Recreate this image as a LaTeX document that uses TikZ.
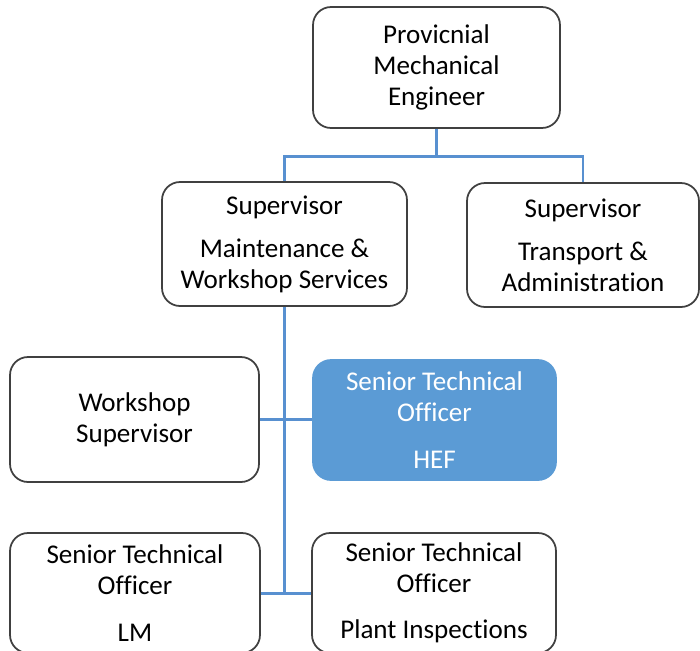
\documentclass[tikz,border=0pt]{standalone}
\usepackage{fontspec}
\setmainfont[Ligatures=NoCommon]{Carlito}
\colorlet{BoxBorder}{black!75}
\definecolor{LinkBlue}{RGB}{88,144,208}
\definecolor{FilledBox}{RGB}{91,155,213}
\usetikzlibrary{calc}
\tikzset{
    post/.style={
        draw=BoxBorder, line width=1pt, rounded corners=0.36cm,
        fill=white, align=center, inner sep=0pt,
        font=\fontsize{15.4}{17.5}\selectfont
    },
    post hl/.style={
        post, draw=FilledBox, fill=FilledBox, text=white
    },
    link/.style={draw=LinkBlue, line width=1.7pt}
}

\begin{document}
\begin{tikzpicture}[x=0.02cm, y=-0.02cm]

\useasboundingbox (0,0) rectangle (700,650);
\clip (0,0) rectangle (700,650);

% Head of the office.
\node[post, minimum width=4.94cm, minimum height=2.42cm] (pme) at (436.5,67.5)
    {Provicnial\\Mechanical\\Engineer};

% Supervisors.
\node[post, minimum width=4.9cm, minimum height=2.48cm] (supm) at (284.5,244)
    {Supervisor\\[7pt]Maintenance \&\\Workshop Services};
\node[post, minimum width=4.64cm, minimum height=2.48cm] (supt) at (583,245)
    {Supervisor\\[7pt]Transport \&\\Administration};

% Posts under maintenance and workshop services.
\node[post, minimum width=4.98cm, minimum height=2.5cm] (wsup) at (134.5,419.5)
    {Workshop\\Supervisor};
\node[post hl, minimum width=4.86cm, minimum height=2.4cm] (hef) at (434.5,420)
    {Senior Technical\\Officer\\[9pt]HEF};
\node[post, minimum width=5cm, minimum height=2.4cm] (stolm) at (135,593)
    {Senior Technical\\Officer\\[9pt]LM};
\node[post, minimum width=4.88cm, minimum height=2.4cm] (stopi) at (434,593)
    {Senior Technical\\Officer\\[9pt]Plant Inspections};

% Connectors.
\coordinate (bus) at (436.5,156);
\draw[link] (pme.south) -- (bus);
\draw[link] (supm.north) |- (bus) -| (supt.north);
\draw[link] (supm.south) -- (supm.south |- stolm.east);
\draw[link] (wsup.east) -- (wsup.east -| hef.west);
\draw[link] (stolm.east) -- (stolm.east -| stopi.west);

\end{tikzpicture}
\end{document}
